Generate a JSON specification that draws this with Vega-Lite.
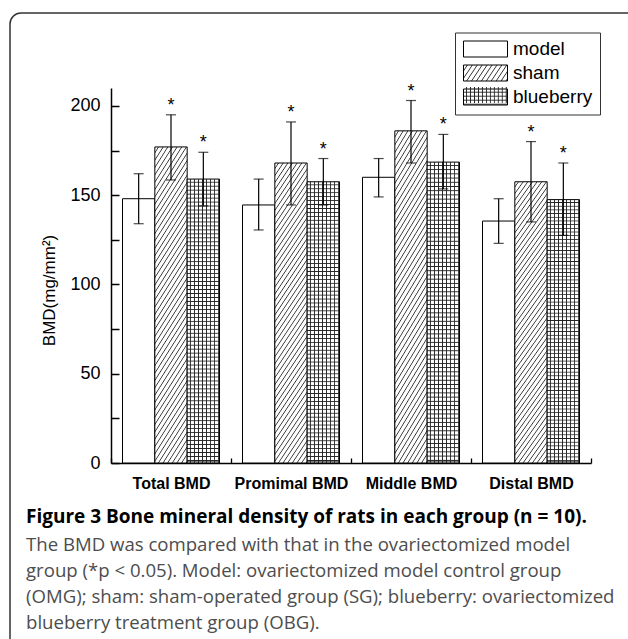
{
  "$schema": "https://vega.github.io/schema/vega-lite/v6.json",
  "width": 640,
  "height": 660,
  "autosize": {"type": "none"},
  "padding": {"left": 10, "top": 13, "right": -22, "bottom": -34},
  "background": "white",
  "config": {
    "view": {"stroke": "#333", "strokeWidth": 1.5, "cornerRadius": 11, "fill": "white"},
    "font": "Liberation Sans",
    "axis": {"grid": false, "labelOverlap": false, "labelBound": false}
  },
  "title": {
    "text": "Figure 3 Bone mineral density of rats in each group (n = 10).",
    "subtitle": [
      "The BMD was compared with that in the ovariectomized model",
      "group (*p < 0.05). Model: ovariectomized model control group",
      "(OMG); sham: sham-operated group (SG); blueberry: ovariectomized",
      "blueberry treatment group (OBG)."
    ],
    "orient": "bottom",
    "anchor": "start",
    "frame": "group",
    "offset": -165,
    "dx": 16,
    "font": "Open Sans",
    "fontSize": 19,
    "fontWeight": "bold",
    "color": "black",
    "subtitleFont": "Open Sans",
    "subtitleFontSize": 18.6,
    "subtitleColor": "#4d4d4d",
    "subtitleLineHeight": 26,
    "subtitlePadding": 9
  },
  "data": {
    "values": [
      {"group": "Total BMD", "series": "model", "mean": 148, "lo": 134, "hi": 162, "sig": ""},
      {"group": "Total BMD", "series": "sham", "mean": 177, "lo": 158.5, "hi": 195, "sig": "*"},
      {"group": "Total BMD", "series": "blueberry", "mean": 159, "lo": 144, "hi": 174, "sig": "*"},
      {"group": "Promimal BMD", "series": "model", "mean": 144.5, "lo": 130.5, "hi": 159, "sig": ""},
      {"group": "Promimal BMD", "series": "sham", "mean": 168, "lo": 144.5, "hi": 191, "sig": "*"},
      {"group": "Promimal BMD", "series": "blueberry", "mean": 157.5, "lo": 144.5, "hi": 170.5, "sig": "*"},
      {"group": "Middle BMD", "series": "model", "mean": 160, "lo": 149, "hi": 170.5, "sig": ""},
      {"group": "Middle BMD", "series": "sham", "mean": 186, "lo": 168, "hi": 203, "sig": "*"},
      {"group": "Middle BMD", "series": "blueberry", "mean": 168.5, "lo": 153.5, "hi": 184, "sig": "*"},
      {"group": "Distal BMD", "series": "model", "mean": 135.5, "lo": 123, "hi": 148, "sig": ""},
      {"group": "Distal BMD", "series": "sham", "mean": 157.5, "lo": 135, "hi": 180, "sig": "*"},
      {"group": "Distal BMD", "series": "blueberry", "mean": 147.5, "lo": 127.5, "hi": 168, "sig": "*"}
    ]
  },
  "layer": [
    {
      "mark": {"type": "bar", "stroke": "black", "strokeWidth": 1},
      "encoding": {
        "x": {
          "field": "group", "type": "nominal", "sort": null,
          "scale": {"domain": ["Total BMD", "Promimal BMD", "Middle BMD", "Distal BMD"], "range": [101, 581], "paddingInner": 0, "paddingOuter": 0},
          "axis": {"title": null, "orient": "bottom", "offset": -210, "tickBand": "extent", "tickSize": -5, "tickColor": "black", "tickWidth": 1.3, "domainColor": "black", "domainWidth": 1.5, "labelFont": "Liberation Sans", "labelFontSize": 16, "labelFontWeight": "bold", "labelColor": "black", "labelPadding": 17, "labelAngle": 0}
        },
        "xOffset": {"field": "series", "type": "nominal", "scale": {"domain": ["model", "sham", "blueberry"], "paddingInner": 0, "paddingOuter": 0.356}},
        "y": {
          "field": "mean", "type": "quantitative",
          "scale": {"domain": [0, 210], "range": [450, 75], "nice": false, "zero": true},
          "axis": {"title": "BMD(mg/mm²)", "orient": "left", "offset": -101, "values": [0, 25, 50, 75, 100, 125, 150, 175, 200], "labelExpr": "datum.value % 50 === 0 ? datum.label : ''", "tickSize": -8, "encode": {"ticks": {"update": {"x2": {"signal": "datum.value % 50 === 0 ? 8 : 5"}}}}, "domainColor": "black", "domainWidth": 1.5, "tickColor": "black", "tickWidth": 1.5, "labelFont": "Liberation Sans", "labelFontSize": 18, "labelColor": "black", "labelPadding": 19, "titleFont": "Liberation Sans", "titleFontSize": 17, "titleFontWeight": "normal", "titleColor": "black", "titlePadding": 11, "titleY": 277}
        },
        "fill": {
          "field": "series", "type": "nominal", "legend": null,
          "scale": {"domain": ["model", "sham", "blueberry"], "range": ["#fff",
            {"expr": "{gradient:'linear',x1:0,y1:0,x2:0.183,y2:1.132,stops:[{offset:0,color:'#fff'},{offset:0.012,color:'#fff'},{offset:0.016,color:'#333'},{offset:0.02,color:'#fff'},{offset:0.032,color:'#fff'},{offset:0.036,color:'#333'},{offset:0.04,color:'#fff'},{offset:0.052,color:'#fff'},{offset:0.056,color:'#333'},{offset:0.06,color:'#fff'},{offset:0.072,color:'#fff'},{offset:0.076,color:'#333'},{offset:0.08,color:'#fff'},{offset:0.092,color:'#fff'},{offset:0.096,color:'#333'},{offset:0.1,color:'#fff'},{offset:0.112,color:'#fff'},{offset:0.116,color:'#333'},{offset:0.12,color:'#fff'},{offset:0.132,color:'#fff'},{offset:0.136,color:'#333'},{offset:0.14,color:'#fff'},{offset:0.152,color:'#fff'},{offset:0.156,color:'#333'},{offset:0.16,color:'#fff'},{offset:0.172,color:'#fff'},{offset:0.176,color:'#333'},{offset:0.18,color:'#fff'},{offset:0.192,color:'#fff'},{offset:0.196,color:'#333'},{offset:0.2,color:'#fff'},{offset:0.212,color:'#fff'},{offset:0.216,color:'#333'},{offset:0.22,color:'#fff'},{offset:0.232,color:'#fff'},{offset:0.236,color:'#333'},{offset:0.24,color:'#fff'},{offset:0.252,color:'#fff'},{offset:0.256,color:'#333'},{offset:0.26,color:'#fff'},{offset:0.272,color:'#fff'},{offset:0.276,color:'#333'},{offset:0.28,color:'#fff'},{offset:0.292,color:'#fff'},{offset:0.296,color:'#333'},{offset:0.3,color:'#fff'},{offset:0.312,color:'#fff'},{offset:0.316,color:'#333'},{offset:0.32,color:'#fff'},{offset:0.332,color:'#fff'},{offset:0.336,color:'#333'},{offset:0.34,color:'#fff'},{offset:0.352,color:'#fff'},{offset:0.356,color:'#333'},{offset:0.36,color:'#fff'},{offset:0.372,color:'#fff'},{offset:0.376,color:'#333'},{offset:0.38,color:'#fff'},{offset:0.392,color:'#fff'},{offset:0.396,color:'#333'},{offset:0.4,color:'#fff'},{offset:0.412,color:'#fff'},{offset:0.416,color:'#333'},{offset:0.42,color:'#fff'},{offset:0.432,color:'#fff'},{offset:0.436,color:'#333'},{offset:0.44,color:'#fff'},{offset:0.452,color:'#fff'},{offset:0.456,color:'#333'},{offset:0.46,color:'#fff'},{offset:0.472,color:'#fff'},{offset:0.476,color:'#333'},{offset:0.48,color:'#fff'},{offset:0.492,color:'#fff'},{offset:0.496,color:'#333'},{offset:0.5,color:'#fff'},{offset:0.512,color:'#fff'},{offset:0.516,color:'#333'},{offset:0.52,color:'#fff'},{offset:0.532,color:'#fff'},{offset:0.536,color:'#333'},{offset:0.54,color:'#fff'},{offset:0.552,color:'#fff'},{offset:0.556,color:'#333'},{offset:0.56,color:'#fff'},{offset:0.572,color:'#fff'},{offset:0.576,color:'#333'},{offset:0.58,color:'#fff'},{offset:0.592,color:'#fff'},{offset:0.596,color:'#333'},{offset:0.6,color:'#fff'},{offset:0.612,color:'#fff'},{offset:0.616,color:'#333'},{offset:0.62,color:'#fff'},{offset:0.632,color:'#fff'},{offset:0.636,color:'#333'},{offset:0.64,color:'#fff'},{offset:0.652,color:'#fff'},{offset:0.656,color:'#333'},{offset:0.66,color:'#fff'},{offset:0.672,color:'#fff'},{offset:0.676,color:'#333'},{offset:0.68,color:'#fff'},{offset:0.692,color:'#fff'},{offset:0.696,color:'#333'},{offset:0.7,color:'#fff'},{offset:0.712,color:'#fff'},{offset:0.716,color:'#333'},{offset:0.72,color:'#fff'},{offset:0.732,color:'#fff'},{offset:0.736,color:'#333'},{offset:0.74,color:'#fff'},{offset:0.752,color:'#fff'},{offset:0.756,color:'#333'},{offset:0.76,color:'#fff'},{offset:0.772,color:'#fff'},{offset:0.776,color:'#333'},{offset:0.78,color:'#fff'},{offset:0.792,color:'#fff'},{offset:0.796,color:'#333'},{offset:0.8,color:'#fff'},{offset:0.812,color:'#fff'},{offset:0.816,color:'#333'},{offset:0.82,color:'#fff'},{offset:0.832,color:'#fff'},{offset:0.836,color:'#333'},{offset:0.84,color:'#fff'},{offset:0.852,color:'#fff'},{offset:0.856,color:'#333'},{offset:0.86,color:'#fff'},{offset:0.872,color:'#fff'},{offset:0.876,color:'#333'},{offset:0.88,color:'#fff'},{offset:0.892,color:'#fff'},{offset:0.896,color:'#333'},{offset:0.9,color:'#fff'},{offset:0.912,color:'#fff'},{offset:0.916,color:'#333'},{offset:0.92,color:'#fff'},{offset:0.932,color:'#fff'},{offset:0.936,color:'#333'},{offset:0.94,color:'#fff'},{offset:0.952,color:'#fff'},{offset:0.956,color:'#333'},{offset:0.96,color:'#fff'},{offset:0.972,color:'#fff'},{offset:0.976,color:'#333'},{offset:0.98,color:'#fff'},{offset:0.992,color:'#fff'},{offset:0.996,color:'#333'},{offset:1,color:'#fff'}]}"},
            {"expr": "{gradient:'linear',x1:0,y1:0,x2:0,y2:1,stops:[{offset:0,color:'#fff'},{offset:0.008,color:'#fff'},{offset:0.011,color:'#222'},{offset:0.014,color:'#fff'},{offset:0.022,color:'#fff'},{offset:0.025,color:'#222'},{offset:0.028,color:'#fff'},{offset:0.036,color:'#fff'},{offset:0.039,color:'#222'},{offset:0.042,color:'#fff'},{offset:0.05,color:'#fff'},{offset:0.053,color:'#222'},{offset:0.056,color:'#fff'},{offset:0.064,color:'#fff'},{offset:0.067,color:'#222'},{offset:0.07,color:'#fff'},{offset:0.078,color:'#fff'},{offset:0.081,color:'#222'},{offset:0.084,color:'#fff'},{offset:0.092,color:'#fff'},{offset:0.095,color:'#222'},{offset:0.098,color:'#fff'},{offset:0.106,color:'#fff'},{offset:0.109,color:'#222'},{offset:0.112,color:'#fff'},{offset:0.12,color:'#fff'},{offset:0.123,color:'#222'},{offset:0.126,color:'#fff'},{offset:0.134,color:'#fff'},{offset:0.137,color:'#222'},{offset:0.14,color:'#fff'},{offset:0.148,color:'#fff'},{offset:0.151,color:'#222'},{offset:0.154,color:'#fff'},{offset:0.162,color:'#fff'},{offset:0.165,color:'#222'},{offset:0.168,color:'#fff'},{offset:0.176,color:'#fff'},{offset:0.179,color:'#222'},{offset:0.182,color:'#fff'},{offset:0.19,color:'#fff'},{offset:0.193,color:'#222'},{offset:0.196,color:'#fff'},{offset:0.204,color:'#fff'},{offset:0.207,color:'#222'},{offset:0.21,color:'#fff'},{offset:0.218,color:'#fff'},{offset:0.221,color:'#222'},{offset:0.224,color:'#fff'},{offset:0.232,color:'#fff'},{offset:0.235,color:'#222'},{offset:0.238,color:'#fff'},{offset:0.246,color:'#fff'},{offset:0.249,color:'#222'},{offset:0.252,color:'#fff'},{offset:0.26,color:'#fff'},{offset:0.263,color:'#222'},{offset:0.266,color:'#fff'},{offset:0.274,color:'#fff'},{offset:0.277,color:'#222'},{offset:0.28,color:'#fff'},{offset:0.288,color:'#fff'},{offset:0.291,color:'#222'},{offset:0.294,color:'#fff'},{offset:0.302,color:'#fff'},{offset:0.305,color:'#222'},{offset:0.308,color:'#fff'},{offset:0.316,color:'#fff'},{offset:0.319,color:'#222'},{offset:0.322,color:'#fff'},{offset:0.33,color:'#fff'},{offset:0.333,color:'#222'},{offset:0.336,color:'#fff'},{offset:0.344,color:'#fff'},{offset:0.347,color:'#222'},{offset:0.35,color:'#fff'},{offset:0.358,color:'#fff'},{offset:0.361,color:'#222'},{offset:0.364,color:'#fff'},{offset:0.372,color:'#fff'},{offset:0.375,color:'#222'},{offset:0.378,color:'#fff'},{offset:0.386,color:'#fff'},{offset:0.389,color:'#222'},{offset:0.392,color:'#fff'},{offset:0.4,color:'#fff'},{offset:0.403,color:'#222'},{offset:0.406,color:'#fff'},{offset:0.414,color:'#fff'},{offset:0.417,color:'#222'},{offset:0.42,color:'#fff'},{offset:0.428,color:'#fff'},{offset:0.431,color:'#222'},{offset:0.434,color:'#fff'},{offset:0.442,color:'#fff'},{offset:0.445,color:'#222'},{offset:0.448,color:'#fff'},{offset:0.456,color:'#fff'},{offset:0.459,color:'#222'},{offset:0.462,color:'#fff'},{offset:0.47,color:'#fff'},{offset:0.473,color:'#222'},{offset:0.476,color:'#fff'},{offset:0.484,color:'#fff'},{offset:0.487,color:'#222'},{offset:0.49,color:'#fff'},{offset:0.498,color:'#fff'},{offset:0.501,color:'#222'},{offset:0.504,color:'#fff'},{offset:0.512,color:'#fff'},{offset:0.515,color:'#222'},{offset:0.518,color:'#fff'},{offset:0.526,color:'#fff'},{offset:0.529,color:'#222'},{offset:0.532,color:'#fff'},{offset:0.54,color:'#fff'},{offset:0.543,color:'#222'},{offset:0.546,color:'#fff'},{offset:0.554,color:'#fff'},{offset:0.557,color:'#222'},{offset:0.56,color:'#fff'},{offset:0.568,color:'#fff'},{offset:0.571,color:'#222'},{offset:0.574,color:'#fff'},{offset:0.582,color:'#fff'},{offset:0.585,color:'#222'},{offset:0.588,color:'#fff'},{offset:0.596,color:'#fff'},{offset:0.599,color:'#222'},{offset:0.602,color:'#fff'},{offset:0.61,color:'#fff'},{offset:0.613,color:'#222'},{offset:0.616,color:'#fff'},{offset:0.624,color:'#fff'},{offset:0.627,color:'#222'},{offset:0.63,color:'#fff'},{offset:0.638,color:'#fff'},{offset:0.641,color:'#222'},{offset:0.644,color:'#fff'},{offset:0.652,color:'#fff'},{offset:0.655,color:'#222'},{offset:0.658,color:'#fff'},{offset:0.666,color:'#fff'},{offset:0.669,color:'#222'},{offset:0.672,color:'#fff'},{offset:0.68,color:'#fff'},{offset:0.683,color:'#222'},{offset:0.686,color:'#fff'},{offset:0.694,color:'#fff'},{offset:0.697,color:'#222'},{offset:0.7,color:'#fff'},{offset:0.708,color:'#fff'},{offset:0.711,color:'#222'},{offset:0.714,color:'#fff'},{offset:0.722,color:'#fff'},{offset:0.725,color:'#222'},{offset:0.728,color:'#fff'},{offset:0.736,color:'#fff'},{offset:0.739,color:'#222'},{offset:0.742,color:'#fff'},{offset:0.75,color:'#fff'},{offset:0.753,color:'#222'},{offset:0.756,color:'#fff'},{offset:0.764,color:'#fff'},{offset:0.767,color:'#222'},{offset:0.77,color:'#fff'},{offset:0.778,color:'#fff'},{offset:0.781,color:'#222'},{offset:0.784,color:'#fff'},{offset:0.792,color:'#fff'},{offset:0.795,color:'#222'},{offset:0.798,color:'#fff'},{offset:0.806,color:'#fff'},{offset:0.809,color:'#222'},{offset:0.812,color:'#fff'},{offset:0.82,color:'#fff'},{offset:0.823,color:'#222'},{offset:0.826,color:'#fff'},{offset:0.834,color:'#fff'},{offset:0.837,color:'#222'},{offset:0.84,color:'#fff'},{offset:0.848,color:'#fff'},{offset:0.851,color:'#222'},{offset:0.854,color:'#fff'},{offset:0.862,color:'#fff'},{offset:0.865,color:'#222'},{offset:0.868,color:'#fff'},{offset:0.876,color:'#fff'},{offset:0.879,color:'#222'},{offset:0.882,color:'#fff'},{offset:0.89,color:'#fff'},{offset:0.893,color:'#222'},{offset:0.896,color:'#fff'},{offset:0.904,color:'#fff'},{offset:0.907,color:'#222'},{offset:0.91,color:'#fff'},{offset:0.918,color:'#fff'},{offset:0.921,color:'#222'},{offset:0.924,color:'#fff'},{offset:0.932,color:'#fff'},{offset:0.935,color:'#222'},{offset:0.938,color:'#fff'},{offset:0.946,color:'#fff'},{offset:0.949,color:'#222'},{offset:0.952,color:'#fff'},{offset:0.96,color:'#fff'},{offset:0.963,color:'#222'},{offset:0.966,color:'#fff'},{offset:0.974,color:'#fff'},{offset:0.977,color:'#222'},{offset:0.98,color:'#fff'},{offset:0.988,color:'#fff'},{offset:0.991,color:'#222'},{offset:1,color:'#fff'}]}"}
          ]}
        }
      }
    },
    {
      "mark": {"type": "bar", "strokeWidth": 0},
      "encoding": {
        "x": {"field": "group", "type": "nominal", "sort": null, "axis": null},
        "xOffset": {"field": "series", "type": "nominal"},
        "y": {"field": "mean", "type": "quantitative", "axis": null},
        "fill": {
          "field": "series", "type": "nominal", "legend": null,
          "scale": {"domain": ["model", "sham", "blueberry"], "range": ["rgba(0,0,0,0)", "rgba(0,0,0,0)",
            {"expr": "{gradient:'linear',x1:0,y1:0,x2:1,y2:0,stops:[{offset:0,color:'rgba(34,34,34,0)'},{offset:0.07,color:'rgba(34,34,34,0)'},{offset:0.1,color:'#222'},{offset:0.125,color:'rgba(34,34,34,0)'},{offset:0.195,color:'rgba(34,34,34,0)'},{offset:0.225,color:'#222'},{offset:0.25,color:'rgba(34,34,34,0)'},{offset:0.32,color:'rgba(34,34,34,0)'},{offset:0.35,color:'#222'},{offset:0.375,color:'rgba(34,34,34,0)'},{offset:0.445,color:'rgba(34,34,34,0)'},{offset:0.475,color:'#222'},{offset:0.5,color:'rgba(34,34,34,0)'},{offset:0.57,color:'rgba(34,34,34,0)'},{offset:0.6,color:'#222'},{offset:0.625,color:'rgba(34,34,34,0)'},{offset:0.695,color:'rgba(34,34,34,0)'},{offset:0.725,color:'#222'},{offset:0.75,color:'rgba(34,34,34,0)'},{offset:0.82,color:'rgba(34,34,34,0)'},{offset:0.85,color:'#222'},{offset:0.875,color:'rgba(34,34,34,0)'},{offset:0.945,color:'rgba(34,34,34,0)'},{offset:0.975,color:'#222'},{offset:1,color:'rgba(34,34,34,0)'}]}"}
          ]}
        }
      }
    },
    {
      "mark": {"type": "rule", "color": "black", "strokeWidth": 1.2},
      "encoding": {
        "x": {"field": "group", "type": "nominal", "sort": null, "axis": {"title": null, "orient": "bottom", "offset": -210, "labels": false, "domain": false, "tickSize": -5, "tickColor": "black", "tickWidth": 1.3}},
        "xOffset": {"field": "series", "type": "nominal"},
        "y": {"field": "lo", "type": "quantitative", "axis": null},
        "y2": {"field": "hi"}
      }
    },
    {
      "mark": {"type": "tick", "orient": "horizontal", "size": 10, "thickness": 1.2, "color": "black"},
      "encoding": {
        "x": {"field": "group", "type": "nominal", "sort": null, "axis": null},
        "xOffset": {"field": "series", "type": "nominal"},
        "y": {"field": "hi", "type": "quantitative", "axis": null}
      }
    },
    {
      "mark": {"type": "tick", "orient": "horizontal", "size": 10, "thickness": 1.2, "color": "black"},
      "encoding": {
        "x": {"field": "group", "type": "nominal", "sort": null, "axis": null},
        "xOffset": {"field": "series", "type": "nominal"},
        "y": {"field": "lo", "type": "quantitative", "axis": null}
      }
    },
    {
      "mark": {"type": "text", "font": "Liberation Sans", "fontSize": 18, "baseline": "alphabetic", "dy": -4, "color": "black"},
      "encoding": {
        "x": {"field": "group", "type": "nominal", "sort": null, "axis": null},
        "xOffset": {"field": "series", "type": "nominal"},
        "y": {"field": "hi", "type": "quantitative", "axis": null},
        "text": {"field": "sig"}
      }
    },
    {
      "transform": [{"filter": "datum.mean < 0"}],
      "mark": {"type": "bar"},
      "encoding": {
        "fill": {
          "field": "series", "type": "nominal",
          "scale": {"domain": ["model", "sham", "blueberry"], "range": ["#fff",
            {"expr": "{gradient:'linear',x1:0,y1:0,x2:1.1734,y2:0.2844,stops:[{offset:0,color:'#fff'},{offset:0.054,color:'#fff'},{offset:0.072,color:'#333'},{offset:0.09,color:'#fff'},{offset:0.144,color:'#fff'},{offset:0.162,color:'#333'},{offset:0.18,color:'#fff'},{offset:0.234,color:'#fff'},{offset:0.252,color:'#333'},{offset:0.27,color:'#fff'},{offset:0.324,color:'#fff'},{offset:0.342,color:'#333'},{offset:0.36,color:'#fff'},{offset:0.414,color:'#fff'},{offset:0.432,color:'#333'},{offset:0.45,color:'#fff'},{offset:0.504,color:'#fff'},{offset:0.522,color:'#333'},{offset:0.54,color:'#fff'},{offset:0.594,color:'#fff'},{offset:0.612,color:'#333'},{offset:0.63,color:'#fff'},{offset:0.684,color:'#fff'},{offset:0.702,color:'#333'},{offset:0.72,color:'#fff'},{offset:0.774,color:'#fff'},{offset:0.792,color:'#333'},{offset:0.81,color:'#fff'},{offset:0.864,color:'#fff'},{offset:0.882,color:'#333'},{offset:0.9,color:'#fff'},{offset:0.954,color:'#fff'},{offset:0.972,color:'#333'},{offset:1,color:'#fff'}]}"},
            {"expr": "{gradient:'linear',x1:0,y1:0,x2:0,y2:1,stops:[{offset:0,color:'#fff'},{offset:0.14,color:'#fff'},{offset:0.2,color:'#222'},{offset:0.25,color:'#fff'},{offset:0.39,color:'#fff'},{offset:0.45,color:'#222'},{offset:0.5,color:'#fff'},{offset:0.64,color:'#fff'},{offset:0.7,color:'#222'},{offset:0.75,color:'#fff'},{offset:0.89,color:'#fff'},{offset:0.95,color:'#222'},{offset:1,color:'#fff'}]}"}
          ]},
          "legend": {
            "title": null, "orient": "none", "legendX": 445, "legendY": 19.5,
            "symbolType": "M-2.75,-1H2.75V1H-2.75Z", "symbolSize": 256, "symbolOffset": 14,
            "symbolStrokeColor": "black", "symbolStrokeWidth": 1,
            "labelFont": "Liberation Sans", "labelFontSize": 19, "labelColor": "black", "labelOffset": 18, "labelLimit": 300,
            "rowPadding": 3, "padding": 7, "strokeColor": "#333",
            "encode": {"symbols": {"update": {"stroke": {"value": "black"}, "strokeWidth": {"value": 1}}}}
          }
        }
      }
    },
    {
      "transform": [{"filter": "datum.mean < 0"}],
      "mark": {"type": "bar"},
      "encoding": {
        "fill": {
          "field": "series", "type": "nominal",
          "scale": {"domain": ["model", "sham", "blueberry"], "range": ["rgba(0,0,0,0)", "rgba(0,0,0,0)",
            {"expr": "{gradient:'linear',x1:0,y1:0,x2:1,y2:0,stops:[{offset:0,color:'rgba(34,34,34,0)'},{offset:0.05,color:'rgba(34,34,34,0)'},{offset:0.07,color:'#222'},{offset:0.09,color:'rgba(34,34,34,0)'},{offset:0.14,color:'rgba(34,34,34,0)'},{offset:0.16,color:'#222'},{offset:0.18,color:'rgba(34,34,34,0)'},{offset:0.23,color:'rgba(34,34,34,0)'},{offset:0.25,color:'#222'},{offset:0.27,color:'rgba(34,34,34,0)'},{offset:0.32,color:'rgba(34,34,34,0)'},{offset:0.34,color:'#222'},{offset:0.36,color:'rgba(34,34,34,0)'},{offset:0.41,color:'rgba(34,34,34,0)'},{offset:0.43,color:'#222'},{offset:0.45,color:'rgba(34,34,34,0)'},{offset:0.5,color:'rgba(34,34,34,0)'},{offset:0.52,color:'#222'},{offset:0.54,color:'rgba(34,34,34,0)'},{offset:0.59,color:'rgba(34,34,34,0)'},{offset:0.61,color:'#222'},{offset:0.63,color:'rgba(34,34,34,0)'},{offset:0.68,color:'rgba(34,34,34,0)'},{offset:0.7,color:'#222'},{offset:0.72,color:'rgba(34,34,34,0)'},{offset:0.77,color:'rgba(34,34,34,0)'},{offset:0.79,color:'#222'},{offset:0.81,color:'rgba(34,34,34,0)'},{offset:0.86,color:'rgba(34,34,34,0)'},{offset:0.88,color:'#222'},{offset:0.9,color:'rgba(34,34,34,0)'},{offset:0.95,color:'rgba(34,34,34,0)'},{offset:0.97,color:'#222'},{offset:1,color:'rgba(34,34,34,0)'}]}"}
          ]},
          "legend": {
            "title": null, "orient": "none", "legendX": 445, "legendY": 19.5,
            "symbolType": "M-2.75,-1H2.75V1H-2.75Z", "symbolSize": 256, "symbolOffset": 14,
            "symbolStrokeWidth": 0,
            "labelFont": "Liberation Sans", "labelFontSize": 19, "labelExpr": "''", "labelOffset": 18, "labelLimit": 300,
            "rowPadding": 3, "padding": 7,
            "encode": {"symbols": {"update": {"stroke": {"value": "transparent"}, "strokeWidth": {"value": 0}}}}
          }
        }
      }
    }
  ],
  "resolve": {"scale": {"fill": "independent"}, "axis": {"x": "independent", "y": "independent"}}
}
